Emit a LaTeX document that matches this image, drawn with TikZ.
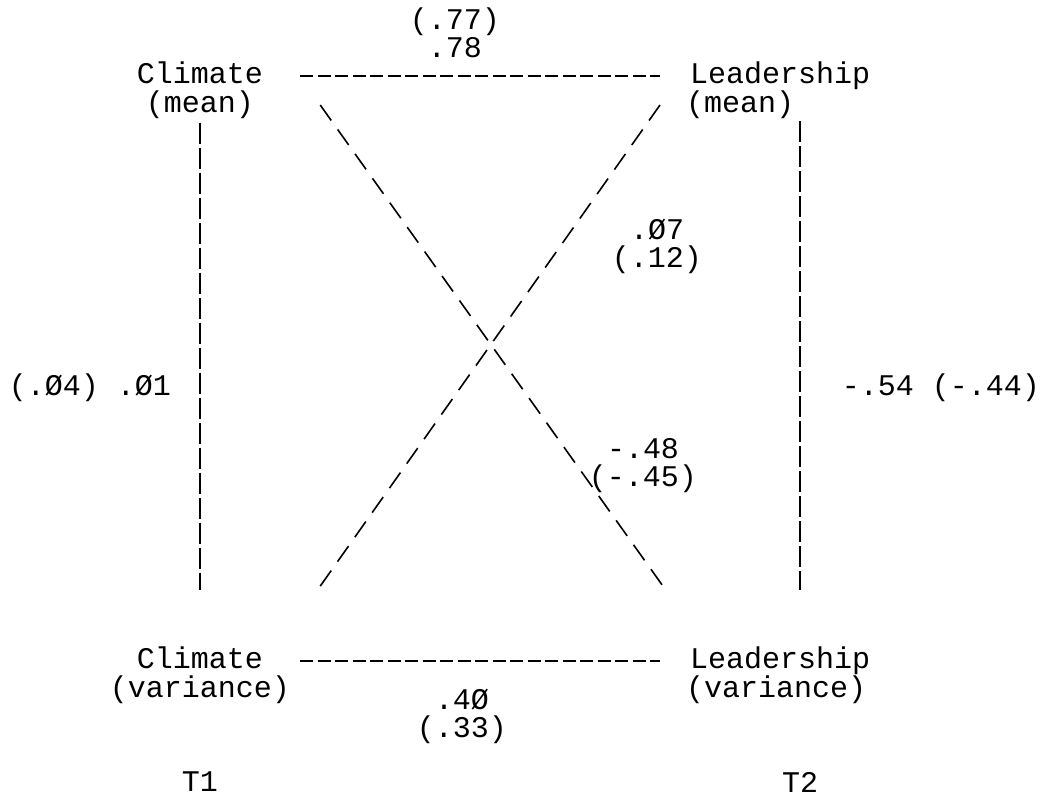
\documentclass[tikz,border=0pt]{standalone}
\usepackage{fontspec}
\setmonofont{Liberation Mono}
\usetikzlibrary{positioning}
\tikzset{
  lbl/.style={inner sep=0pt, font=\ttfamily\fontsize{30}{27}\selectfont,
    text height=20pt, text depth=6pt},
  val/.style={inner sep=0pt, align=center,
    font=\ttfamily\fontsize{30}{28}\selectfont},
  hdash/.style={line width=2.2pt, dash pattern=on 13pt off 4.5pt},
  vdash/.style={line width=1.6pt, dash pattern=on 21pt off 4pt},
  ddash/.style={line width=1.6pt, dash pattern=on 19pt off 11pt},
}
\begin{document}
\begin{tikzpicture}[x=1pt, y=-1pt]
  \useasboundingbox[fill=white] (0,0) rectangle (1050,803);

  % variables
  \node[lbl] (cm) at (200,76) {Climate};
  \node[lbl, below=3pt of cm] (cmp) {(mean)};
  \node[lbl, anchor=west] (lm) at (690,76) {Leadership};
  \node[lbl, below right=3pt and -4pt of lm.south west] (lmp) {(mean)};
  \node[lbl] (cv) at (200,661) {Climate};
  \node[lbl, below=3pt of cv] (cvp) {(variance)};
  \node[lbl, anchor=west] (lv) at (690,661) {Leadership};
  \node[lbl, below right=3pt and -4pt of lv.south west] (lvp) {(variance)};

  % coefficients
  \node[val] (rtop) at (455,33) {(.77)\\.78};
  \node[val] (rcross) at (657,246) {.Ø7\\(.12)};
  \node[val] (rleft) at (90,388) {(.Ø4) .Ø1};
  \node[val] (rright) at (941,388) {-.54 (-.44)};
  \node[val] (rdiag) at (643,466) {-.48\\(-.45)};
  \node[val] (rbot) at (462,716) {.4Ø\\(.33)};
  \node[val] (t1) at (200,782) {T1};
  \node[val] (t2) at (800,782) {T2};

  \draw[hdash, shorten <=37pt, shorten >=30pt] (cm.east) -- (lm.west);
  \draw[hdash, shorten <=37pt, shorten >=30pt] (cv.east) -- (lv.west);
  \draw[vdash, shorten <=4pt, shorten >=58pt] (cmp.south) -- (cv.north);
  \draw[vdash, shorten <=32pt, shorten >=58pt] ([xshift=20pt]lm.south) -- ([xshift=20pt]lv.north);
  \draw[ddash] ([xshift=57pt, yshift=-29pt]cm.east) -- ([xshift=-25pt, yshift=72pt]lv.west);
  \draw[ddash] ([xshift=-30pt, yshift=-29pt]lm.west) -- ([xshift=55pt, yshift=72pt]cv.east);
\end{tikzpicture}
\end{document}
